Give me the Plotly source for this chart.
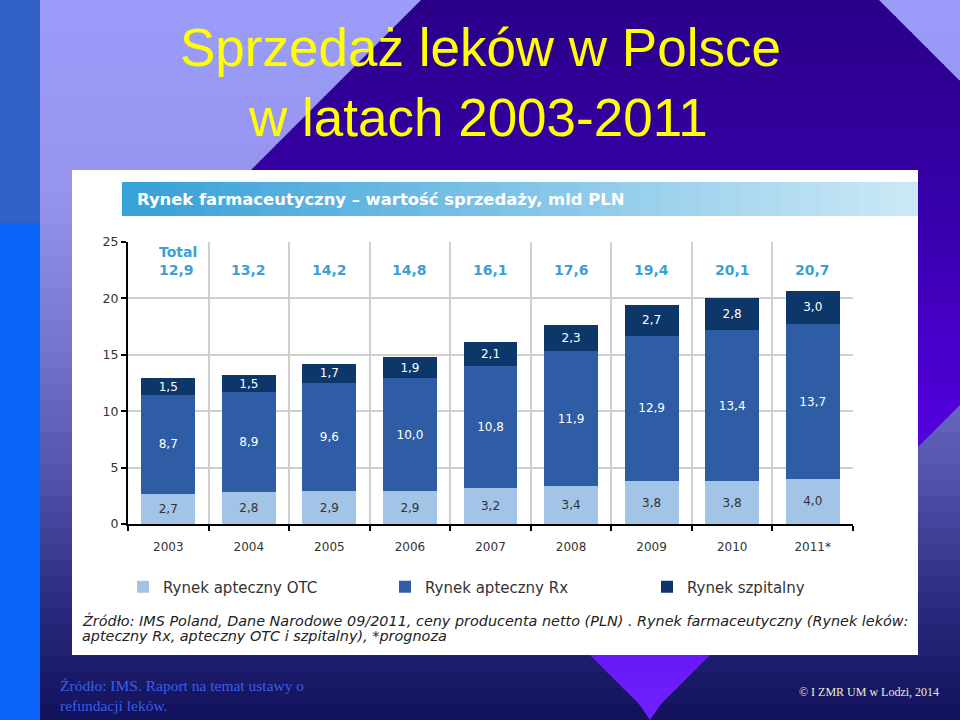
import plotly.graph_objects as go

# ---------------- data ----------------
years = ["2003", "2004", "2005", "2006", "2007", "2008", "2009", "2010", "2011*"]
otc = [2.7, 2.8, 2.9, 2.9, 3.2, 3.4, 3.8, 3.8, 4.0]
rx = [8.7, 8.9, 9.6, 10.0, 10.8, 11.9, 12.9, 13.4, 13.7]
hosp = [1.5, 1.5, 1.7, 1.9, 2.1, 2.3, 2.7, 2.8, 3.0]
totals = [12.9, 13.2, 14.2, 14.8, 16.1, 17.6, 19.4, 20.1, 20.7]
y_ticks = [0, 5, 10, 15, 20, 25]

series_names = ["Rynek apteczny OTC", "Rynek apteczny Rx", "Rynek szpitalny"]
series_colors = ["#a2c4e6", "#2e5da6", "#0c3768"]
label_colors = ["#333333", "#ffffff", "#ffffff"]

title_line1 = "Sprzedaż leków w Polsce"
title_line2 = "w latach 2003-2011"
header_text = "Rynek farmaceutyczny – wartość sprzedaży, mld PLN"
source_line1 = "Źródło: IMS Poland, Dane Narodowe 09/2011, ceny producenta netto (PLN) . Rynek farmaceutyczny (Rynek leków:"
source_line2 = "apteczny Rx, apteczny OTC i szpitalny), *prognoza"
foot_left1 = "Źródło: IMS. Raport na temat ustawy o"
foot_left2 = "refundacji leków."
foot_right = "© I ZMR UM w Lodzi, 2014"


def fmt(v):
    return f"{v:.1f}".replace(".", ",")


# ---------------- geometry helpers (pixel -> paper) ----------------
W_FIG, H_FIG = 960, 720
L, R, T, B = 128, 853, 242, 524
PW, PH = R - L, B - T


def px(x):
    return (x - L) / PW


def py(y):
    return (B - y) / PH


def hex2rgb(h):
    h = h.lstrip("#")
    return tuple(int(h[i:i + 2], 16) for i in (0, 2, 4))


def interp(stops, t):
    for (t0, c0), (t1, c1) in zip(stops[:-1], stops[1:]):
        if t0 <= t <= t1:
            f = 0 if t1 == t0 else (t - t0) / (t1 - t0)
            a, b = hex2rgb(c0), hex2rgb(c1)
            return "rgb(%d,%d,%d)" % tuple(round(a[i] + (b[i] - a[i]) * f) for i in range(3))
    return stops[-1][1]


shapes = []


def rect(x0, y0, x1, y1, color):
    shapes.append(dict(type="rect", xref="paper", yref="paper", x0=px(x0), x1=px(x1),
                       y0=py(y1), y1=py(y0), fillcolor=color, line=dict(width=0), layer="below"))


def poly(points, color):
    d = "M " + " L ".join(f"{px(x):.5f},{py(y):.5f}" for x, y in points) + " Z"
    shapes.append(dict(type="path", xref="paper", yref="paper", path=d, fillcolor=color,
                       line=dict(width=0), layer="below"))


# background vertical gradient
bg_stops = [(0, "#9c9cfc"), (200, "#9494ec"), (350, "#7474cc"), (480, "#5252aa"),
            (600, "#2c2c82"), (720, "#10105a")]
step = 16
for y in range(0, 720, step):
    rect(40, y, 960, y + step + 1, interp(bg_stops, y + step / 2))

# rotated square (diamond) with gradient
cx, cy, rr = 650, 243, 472
dia_stops = [(-240, "#24007a"), (0, "#2a0088"), (200, "#3600a8"), (400, "#4e00d6"), (720, "#7020ff")]


def halfw(y):
    return rr - abs(y - cy)


for y in range(0, 720, step):
    y0, y1 = y, min(y + step + 1, 720)
    pts_l, pts_r = [], []
    ys = [y0] + ([cy] if y0 < cy < y1 else []) + [y1]
    for yy in ys:
        w = max(halfw(yy), 0)
        pts_r.append((cx + w, yy))
        pts_l.append((cx - w, yy))
    poly(pts_r + pts_l[::-1], interp(dia_stops, y + step / 2))

# left strip
rect(0, 0, 40, 223, "#3262c8")
rect(0, 223, 40, 720, "#0a64fa")

# white chart panel
rect(72, 170, 918, 655, "#ffffff")

# header bar gradient
hx0, hx1 = 122, 918
nb = 40
for i in range(nb):
    xa = hx0 + (hx1 - hx0) * i / nb
    xb = hx0 + (hx1 - hx0) * (i + 1) / nb + 1
    rect(xa, 182, min(xb, hx1), 216, interp([(0, "#36a0d8"), (1, "#cce8f6")], (i + 0.5) / nb))

# ---------------- traces ----------------
fig = go.Figure()
for vals, name, col, lcol in zip([otc, rx, hosp], series_names, series_colors, label_colors):
    fig.add_trace(go.Bar(
        x=years, y=vals, name=name,
        marker=dict(color=col, line=dict(width=0)),
        text=[fmt(v) for v in vals], textposition="inside", insidetextanchor="middle",
        textfont=dict(family="DejaVu Sans", size=12, color=lcol),
        hoverinfo="skip",
    ))

annotations = []
tot_font = dict(family="DejaVu Sans", size=14, color="#3d9fd2")
# totals row (first column left-aligned under "Total")
for i, tot in enumerate(totals):
    if i == 0:
        annotations.append(dict(x=-0.14, y=22.5, xref="x", yref="y", text=f"<b>{fmt(tot)}</b>",
                                xanchor="left", showarrow=False, font=tot_font))
    else:
        annotations.append(dict(x=i, y=22.5, xref="x", yref="y", text=f"<b>{fmt(tot)}</b>",
                                showarrow=False, font=tot_font))
annotations.append(dict(x=-0.14, y=24.1, xref="x", yref="y", text="<b>Total</b>", xanchor="left",
                        showarrow=False, font=tot_font))

# titles & texts
annotations += [
    dict(x=px(480), y=py(47), xref="paper", yref="paper", text=title_line1, showarrow=False,
         xanchor="center", yanchor="middle", font=dict(family="Liberation Sans", size=53, color="#ffff00")),
    dict(x=px(478), y=py(117), xref="paper", yref="paper", text=title_line2, showarrow=False,
         xanchor="center", yanchor="middle", font=dict(family="Liberation Sans", size=53, color="#ffff00")),
    dict(x=px(135), y=py(200), xref="paper", yref="paper", text=f"<b>{header_text}</b>", showarrow=False,
         xanchor="left", yanchor="middle", font=dict(family="DejaVu Sans", size=16.4, color="#ffffff")),
    dict(x=px(80), y=py(620), xref="paper", yref="paper", text=f"<i>{source_line1}</i>", showarrow=False,
         xanchor="left", yanchor="middle", font=dict(family="DejaVu Sans", size=14.4, color="#222222")),
    dict(x=px(80), y=py(636), xref="paper", yref="paper", text=f"<i>{source_line2}</i>", showarrow=False,
         xanchor="left", yanchor="middle", font=dict(family="DejaVu Sans", size=14.4, color="#222222")),
    dict(x=px(58), y=py(685), xref="paper", yref="paper", text=foot_left1, showarrow=False,
         xanchor="left", yanchor="middle", font=dict(family="Liberation Serif", size=15.5, color="#3a5ee8")),
    dict(x=px(58), y=py(705), xref="paper", yref="paper", text=foot_left2, showarrow=False,
         xanchor="left", yanchor="middle", font=dict(family="Liberation Serif", size=15.5, color="#3a5ee8")),
    dict(x=px(941), y=py(692), xref="paper", yref="paper", text=foot_right, showarrow=False,
         xanchor="right", yanchor="middle", font=dict(family="Liberation Serif", size=12, color="#ecebd6")),
]

fig.update_layout(
    width=W_FIG, height=H_FIG,
    margin=dict(l=L, r=W_FIG - R, t=T, b=H_FIG - B, pad=0),
    paper_bgcolor="#5a5ab4", plot_bgcolor="rgba(0,0,0,0)",
    barmode="stack", bargap=0.33,
    shapes=shapes, annotations=annotations,
    uniformtext=dict(minsize=12, mode="show"),
    showlegend=True,
    legend=dict(orientation="h", x=px(123), y=py(587), xanchor="left", yanchor="middle",
                traceorder="normal",
                font=dict(family="DejaVu Sans", size=15, color="#333333"),
                entrywidth=217, bgcolor="rgba(0,0,0,0)", itemclick=False, itemdoubleclick=False),
    xaxis=dict(type="category", range=[-0.5, len(years) - 0.5], autorange=False,
               tickson="boundaries", ticks="outside", ticklen=5, tickwidth=1.5,
               tickcolor="#000000", showline=True, linecolor="#000000", linewidth=2,
               showgrid=True, gridcolor="#d0d0d0", gridwidth=1.5,
               tickfont=dict(family="DejaVu Sans", size=12, color="#333333"), ticklabelstandoff=11,
               fixedrange=True),
    yaxis=dict(range=[0, 25], autorange=False, tickvals=y_ticks, ticks="outside", ticklen=5, tickwidth=1.5,
               tickcolor="#000000", showline=True, linecolor="#000000", linewidth=2,
               showgrid=True, gridcolor="#d0d0d0", gridwidth=1.5, zeroline=False,
               tickfont=dict(family="DejaVu Sans", size=12.5, color="#333333"), fixedrange=True),
    hovermode=False,
)

fig.write_html("out.html", config=dict(displayModeBar=False),
               post_script="document.body.style.margin='0';document.body.style.overflow='hidden';")
